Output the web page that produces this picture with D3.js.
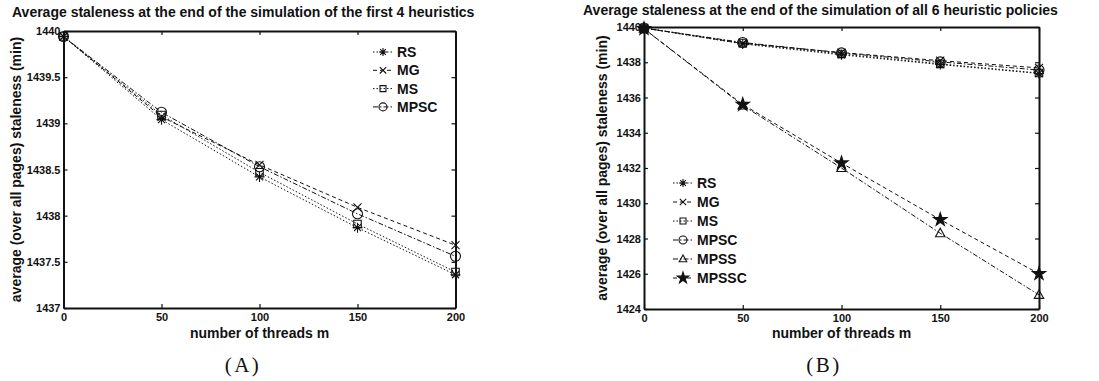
<!DOCTYPE html>
<html>
<head>
<meta charset="utf-8">
<script src="https://cdn.jsdelivr.net/npm/d3@7"></script>
<style>
  body { margin: 0; background: #fff; }
  svg { display: block; font-family: "Liberation Sans", Arial, sans-serif; }
</style>
</head>
<body>
<svg id="chart" width="1099" height="381"></svg>
<script>
// threads m
var threads = [0, 50, 100, 150, 200];

// average staleness (min)
var rsVals    = [1439.94, 1439.04, 1438.42, 1437.87, 1437.36];
var mgVals    = [1439.94, 1439.07, 1438.55, 1438.09, 1437.68];
var msVals    = [1439.94, 1439.09, 1438.47, 1437.91, 1437.39];
var mpscVals  = [1439.94, 1439.12, 1438.53, 1438.02, 1437.56];
var mpssVals  = [1439.90, 1435.55, 1432.00, 1428.30, 1424.80];
var mpsscVals = [1439.90, 1435.60, 1432.28, 1429.07, 1426.00];

var seriesNames = ['RS', 'MG', 'MS', 'MPSC', 'MPSS', 'MPSSC'];
var leftTicks = [1437, 1437.5, 1438, 1438.5, 1439, 1439.5, 1440];
var rightTicks = [1424, 1426, 1428, 1430, 1432, 1434, 1436, 1438, 1440];

var svg = d3.select('#chart');

// line / marker style for each series
var styles = {
  RS:    { dash: '1.5,2',     marker: 'asterisk' },
  MG:    { dash: '4,3',       marker: 'times' },
  MS:    { dash: '1.5,2',     marker: 'square' },
  MPSC:  { dash: '5,2,1.5,2', marker: 'circle' },
  MPSS:  { dash: '5,2,1.5,2', marker: 'triangle' },
  MPSSC: { dash: '4,3',       marker: 'star' }
};

function markerPath(type, r) {
  var k;
  if (type === 'asterisk') {
    k = r * 0.7;
    return 'M' + (-r) + ',0L' + r + ',0M0,' + (-r) + 'L0,' + r +
           'M' + (-k) + ',' + (-k) + 'L' + k + ',' + k +
           'M' + (-k) + ',' + k + 'L' + k + ',' + (-k);
  }
  if (type === 'times') {
    k = r * 0.8;
    return 'M' + (-k) + ',' + (-k) + 'L' + k + ',' + k +
           'M' + (-k) + ',' + k + 'L' + k + ',' + (-k);
  }
  if (type === 'square') {
    k = r * 0.75;
    return 'M' + (-k) + ',' + (-k) + 'H' + k + 'V' + k + 'H' + (-k) + 'Z';
  }
  if (type === 'circle') {
    return d3.symbol(d3.symbolCircle).size(Math.PI * r * r)();
  }
  if (type === 'triangle') {
    return 'M0,' + (-r) + 'L' + (r * 0.95) + ',' + (r * 0.7) + 'L' + (-r * 0.95) + ',' + (r * 0.7) + 'Z';
  }
  return d3.symbol(d3.symbolStar).size(r * r * 1.3)();
}

function drawMarker(g, type, x, y, r) {
  g.append('path')
      .attr('transform', 'translate(' + x + ',' + y + ')')
      .attr('d', markerPath(type, r))
      .attr('fill', type === 'star' ? '#111' : 'none')
      .attr('stroke', '#111')
      .attr('stroke-width', 1.1);
}

function drawPanel(cfg) {
  var x = d3.scaleLinear().domain([0, 200]).range([cfg.x0, cfg.x1]);
  var y = d3.scaleLinear().domain(cfg.yDomain).range([cfg.y1, cfg.y0]);
  var fmt = function(d) { return d % 1 ? d.toFixed(1) : String(d); };

  var g = svg.append('g');

  // title
  g.append('text')
      .attr('x', cfg.titleX).attr('y', cfg.titleY)
      .attr('font-size', '14px').attr('font-weight', 'bold').attr('fill', '#111')
      .text(cfg.title);

  // axes, ticks pointing inward on all four sides
  g.append('g').attr('transform', 'translate(0,' + cfg.y1 + ')')
      .call(d3.axisBottom(x).tickValues(threads).tickSizeInner(-4).tickSizeOuter(0).tickPadding(5));
  g.append('g').attr('transform', 'translate(0,' + cfg.y0 + ')')
      .call(d3.axisTop(x).tickValues(threads).tickSizeInner(-4).tickSizeOuter(0).tickFormat(''));
  g.append('g').attr('transform', 'translate(' + cfg.x0 + ',0)')
      .call(d3.axisLeft(y).tickValues(cfg.yTicks).tickSizeInner(-4).tickSizeOuter(0).tickPadding(3).tickFormat(fmt));
  g.append('g').attr('transform', 'translate(' + cfg.x1 + ',0)')
      .call(d3.axisRight(y).tickValues(cfg.yTicks).tickSizeInner(-4).tickSizeOuter(0).tickFormat(''));
  g.selectAll('.domain').attr('stroke', '#111').attr('stroke-width', 2);
  g.selectAll('.tick line').attr('stroke', '#111').attr('stroke-width', 1.2);
  g.selectAll('.tick text')
      .style('font-family', '"Liberation Sans", Arial, sans-serif')
      .style('font-size', '11px')
      .style('font-weight', 'bold')
      .style('fill', '#111');

  // axis labels
  g.append('text')
      .attr('x', (cfg.x0 + cfg.x1) / 2).attr('y', 338)
      .attr('text-anchor', 'middle')
      .attr('font-size', '14px').attr('font-weight', 'bold').attr('fill', '#111')
      .text('number of threads m');
  g.append('text')
      .attr('transform', 'translate(' + cfg.yLabelX + ',' + ((cfg.y0 + cfg.y1) / 2) + ') rotate(-90)')
      .attr('text-anchor', 'middle')
      .attr('font-size', '14px').attr('font-weight', 'bold').attr('fill', '#111')
      .text('average (over all pages) staleness (min)');

  // series
  var line = d3.line().x(function(d) { return x(d[0]); }).y(function(d) { return y(d[1]); });
  cfg.series.forEach(function(s) {
    var st = styles[s.name];
    var pts = threads.map(function(t, i) { return [t, s.values[i]]; });
    g.append('path')
        .attr('d', line(pts))
        .attr('fill', 'none')
        .attr('stroke', '#111')
        .attr('stroke-width', 1)
        .attr('stroke-dasharray', st.dash);
    pts.forEach(function(p) {
      drawMarker(g, st.marker, x(p[0]), y(p[1]), st.marker === 'star' ? 6.5 : 5);
    });
  });

  // legend
  cfg.series.forEach(function(s, i) {
    var st = styles[s.name];
    var ly = cfg.legY + i * cfg.legStep;
    g.append('line')
        .attr('x1', cfg.legX).attr('x2', cfg.legX + 20)
        .attr('y1', ly).attr('y2', ly)
        .attr('stroke', '#111').attr('stroke-width', 1)
        .attr('stroke-dasharray', st.dash);
    drawMarker(g, st.marker, cfg.legX + 10, ly, st.marker === 'star' ? 5.5 : 4);
    g.append('text')
        .attr('x', cfg.legX + 24).attr('y', ly + 5)
        .attr('font-size', '14px').attr('font-weight', 'bold').attr('fill', '#111')
        .text(s.name);
  });

  // sub-figure label
  g.append('text')
      .attr('x', cfg.subX).attr('y', 372)
      .attr('text-anchor', 'middle')
      .attr('font-family', '"Liberation Serif", "DejaVu Serif", serif')
      .attr('font-size', '21px').attr('letter-spacing', '2.5px').attr('fill', '#111')
      .text(cfg.sub);
}

var allValues = [rsVals, mgVals, msVals, mpscVals, mpssVals, mpsscVals];
var allSeries = seriesNames.map(function(n, i) { return { name: n, values: allValues[i] }; });

drawPanel({
  title: 'Average staleness at the end of the simulation of the first 4 heuristics',
  titleX: 12, titleY: 17,
  x0: 63.5, x1: 455.5, y0: 31, y1: 308,
  yDomain: [1437, 1440], yTicks: leftTicks,
  yLabelX: 21,
  series: allSeries.slice(0, 4),
  legX: 373, legY: 52, legStep: 18.3,
  subX: 243, sub: '(A)'
});

drawPanel({
  title: 'Average staleness at the end of the simulation of all 6 heuristic policies',
  titleX: 583, titleY: 15,
  x0: 644, x1: 1039, y0: 27, y1: 309,
  yDomain: [1424, 1440], yTicks: rightTicks,
  yLabelX: 607,
  series: allSeries,
  legX: 673, legY: 183, legStep: 19,
  subX: 824, sub: '(B)'
});
</script>
</body>
</html>
